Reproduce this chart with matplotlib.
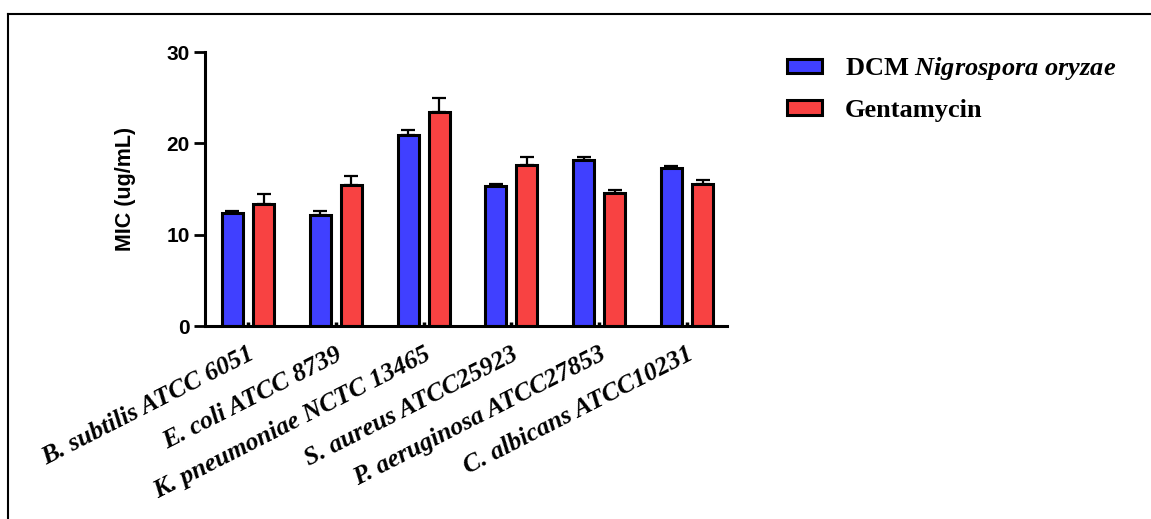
import matplotlib
matplotlib.use("Agg")
import matplotlib.pyplot as plt
import numpy as np
from matplotlib.patches import Patch
from matplotlib.lines import Line2D

categories = ["B. subtilis ATCC 6051", "E. coli ATCC 8739", "K. pneumoniae NCTC 13465",
              "S. aureus ATCC25923", "P. aeruginosa ATCC27853", "C. albicans ATCC10231"]
dcm_values = [12.4, 12.1, 20.9, 15.3, 18.2, 17.3]
dcm_err = [0.2, 0.5, 0.6, 0.3, 0.25, 0.25]
gent_values = [13.4, 15.4, 23.4, 17.6, 14.6, 15.6]
gent_err = [1.0, 1.0, 1.6, 0.9, 0.3, 0.4]
series_labels = ["DCM $\\mathit{Nigrospora\\ oryzae}$", "Gentamycin"]
yticks = [0, 10, 20, 30]

plt.rcParams['mathtext.fontset'] = 'custom'
plt.rcParams['mathtext.rm'] = 'Liberation Serif:bold'
plt.rcParams['mathtext.it'] = 'Liberation Serif:bold:italic'

blue = "#4040FF"
red = "#F84242"

fig = plt.figure(figsize=(11.51, 5.19), dpi=100)
ax = fig.add_axes([205/1151, 1-326/519, (727-205)/1151, (326-52)/519])

x = np.arange(len(categories))
w = 0.24
off = 0.177
ax.bar(x - off, dcm_values, w, color=blue, edgecolor='black', linewidth=2.2, zorder=2)
ax.bar(x + off, gent_values, w, color=red, edgecolor='black', linewidth=2.2, zorder=2)
ax.errorbar(x - off, dcm_values, yerr=[np.zeros(len(x)), dcm_err], fmt='none',
            ecolor='black', elinewidth=1.6, capsize=5, capthick=1.6, zorder=1)
ax.errorbar(x + off, gent_values, yerr=[np.zeros(len(x)), gent_err], fmt='none',
            ecolor='black', elinewidth=1.6, capsize=5, capthick=1.6, zorder=1)

ax.set_xlim(-0.49, 5.456)
ax.set_ylim(0, 30)
ax.set_yticks(yticks)
ax.set_yticklabels([str(v) for v in yticks], fontfamily='Liberation Sans',
                   fontweight='bold', fontsize=15)
ax.set_xticks(x)
ax.set_xticklabels(categories, rotation=27, ha='right', va='top',
                   rotation_mode='anchor', fontfamily='Liberation Serif',
                   fontweight='bold', fontstyle='italic', fontsize=18.5)
ax.tick_params(axis='x', direction='in', length=3, width=2.5, pad=12)
ax.tick_params(axis='y', direction='out', length=8, width=2, pad=3)
for s in ['top', 'right']:
    ax.spines[s].set_visible(False)
for s in ['left', 'bottom']:
    ax.spines[s].set_linewidth(2.2)
ax.set_ylabel("MIC (ug/mL)", fontfamily='Liberation Sans', fontweight='bold',
              fontsize=15.5, labelpad=22)

handles = [Patch(facecolor=blue, edgecolor='black', linewidth=2.2),
           Patch(facecolor=red, edgecolor='black', linewidth=2.2)]
fig.legend(handles, series_labels, loc='upper left',
           bbox_to_anchor=(787/1151, 1-55/519), frameon=False,
           prop={'family': 'Liberation Serif', 'weight': 'bold', 'size': 19},
           handlelength=1.33, handleheight=0.45, handletextpad=0.85,
           labelspacing=0.64, borderpad=0, borderaxespad=0)

fig.add_artist(Line2D([8/1151, 1], [1-14/519, 1-14/519], color='black', linewidth=1.5,
                      transform=fig.transFigure))
fig.add_artist(Line2D([8/1151, 8/1151], [1-14/519, 0], color='black', linewidth=1.5,
                      transform=fig.transFigure))

fig.savefig("out.png", dpi=100)
